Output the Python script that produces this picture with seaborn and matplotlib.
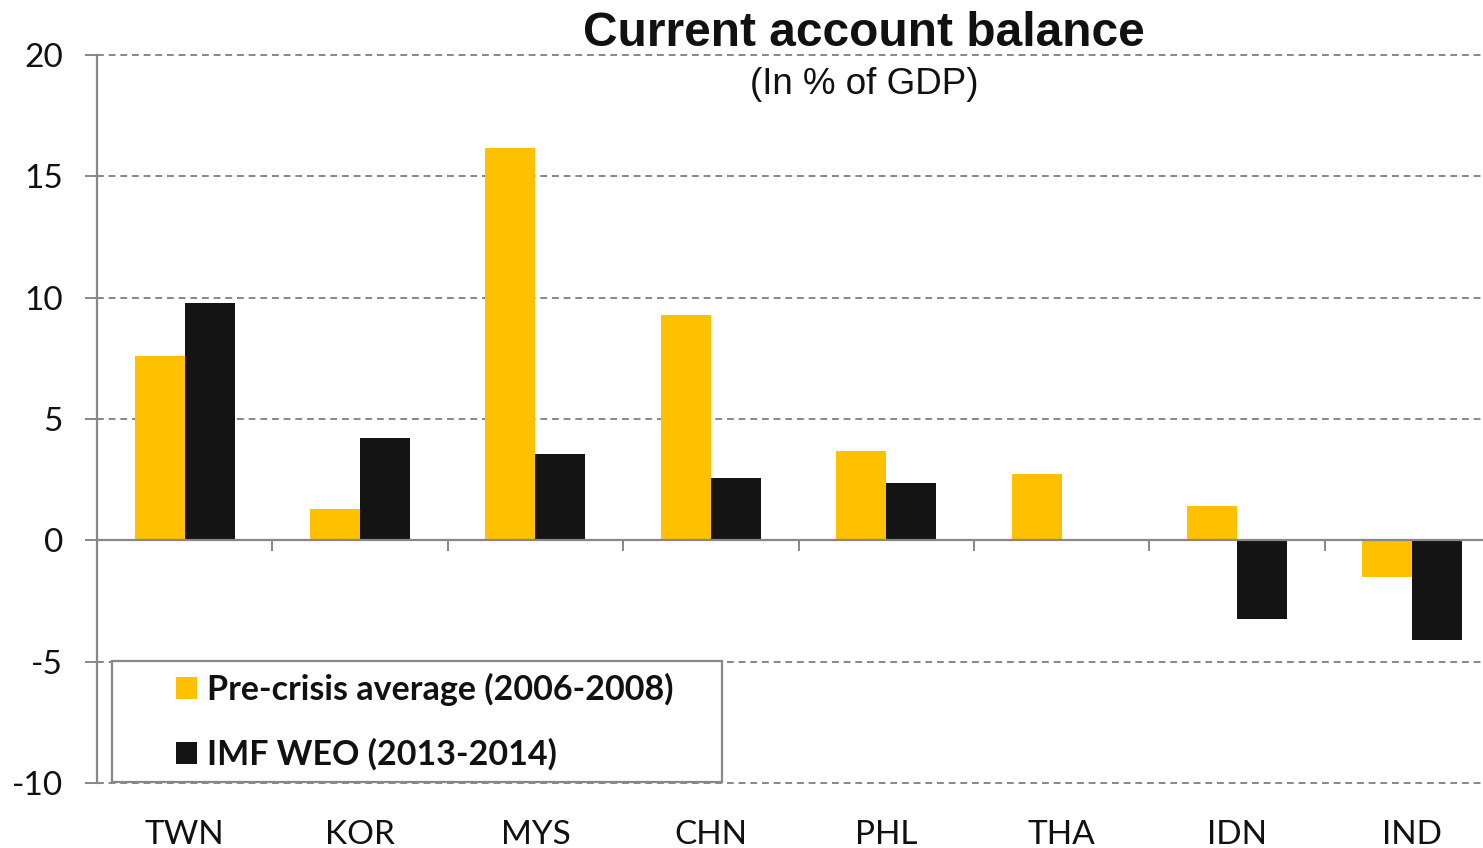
import numpy as np
import pandas as pd
import matplotlib
matplotlib.use("Agg")
import matplotlib.pyplot as plt
from matplotlib.patches import Rectangle
from matplotlib.ticker import FuncFormatter
import seaborn as sns

# Data: current account balance, % of GDP
countries = ["TWN", "KOR", "MYS", "CHN", "PHL", "THA", "IDN", "IND"]
pre_crisis = [7.6, 1.3, 16.15, 9.3, 3.7, 2.75, 1.4, -1.5]
imf_weo = [9.8, 4.2, 3.55, 2.55, 2.35, np.nan, -3.25, -4.1]
series_names = ["Pre-crisis average (2006-2008)", "IMF WEO (2013-2014)"]
y_ticks = [-10, -5, 0, 5, 10, 15, 20]

df = pd.DataFrame({
    "country": countries * 2,
    "series": [series_names[0]] * len(countries) + [series_names[1]] * len(countries),
    "value": pre_crisis + imf_weo,
})

sns.set_style("white")
plt.rcParams["font.family"] = ["Lato", "DejaVu Sans"]
plt.rcParams["axes.unicode_minus"] = False

W, H = 1483, 848
fig = plt.figure(figsize=(W / 100, H / 100), dpi=100)
fig.patch.set_facecolor("white")

# axes spans past the right edge so the last category is clipped
ax_left, ax_right, ax_top, ax_bottom = 97, 1500, 55, 783
ax = fig.add_axes([ax_left / W, 1 - ax_bottom / H, (ax_right - ax_left) / W, (ax_bottom - ax_top) / H])

palette = {series_names[0]: "#FFC000", series_names[1]: "#141414"}
sns.barplot(data=df, x="country", y="value", hue="series", order=countries,
            hue_order=series_names, palette=palette, width=0.57, ax=ax,
            saturation=1, edgecolor="none", linewidth=0)

grey = "#878787"
ax.set_xlim(-0.5, len(countries) - 0.5)
ax.set_ylim(-10, 20)
ax.set_yticks(y_ticks)
ax.yaxis.set_major_formatter(FuncFormatter(lambda v, p: f"{int(v)}"))
ax.set_xlabel("")
ax.set_ylabel("")

# dashed horizontal gridlines (zero line drawn by the bottom spine)
for v in y_ticks:
    if v != 0:
        ax.axhline(v, color=grey, lw=1.4, ls=(0, (3.5, 2.5)), zorder=0, clip_on=False)
ax.grid(False)

for s in ["top", "right"]:
    ax.spines[s].set_visible(False)
ax.spines["left"].set_color(grey)
ax.spines["left"].set_linewidth(1.6)
ax.spines["bottom"].set_position(("data", 0))
ax.spines["bottom"].set_color(grey)
ax.spines["bottom"].set_linewidth(1.6)
ax.spines["bottom"].set_zorder(3)

ax.tick_params(axis="y", left=True, direction="out", length=8.6, width=1.4, color=grey,
               pad=16, labelsize=24, labelcolor="#111111")
ax.set_xticks(np.arange(len(countries)) + 0.5)
ax.set_xticklabels([])
ax.tick_params(axis="x", bottom=True, direction="out", length=8, width=1.4, color=grey)

# category labels along the bottom of the plot area
sec = ax.secondary_xaxis("bottom")
sec.set_xticks(np.arange(len(countries)))
sec.set_xticklabels(countries)
sec.tick_params(axis="x", bottom=True, length=0, pad=27, labelsize=24, labelcolor="#111111")
sec.spines["bottom"].set_visible(False)

# legend inside a framed box
ax.get_legend().remove()
handles = [Rectangle((0, 0), 1, 1, facecolor=palette[n], edgecolor="none") for n in series_names]
box = Rectangle((112 / W, 1 - 782 / H), 610 / W, 121 / H, transform=fig.transFigure,
                facecolor="white", edgecolor=grey, linewidth=1.6, zorder=5)
fig.patches.append(box)
leg = fig.legend(handles, series_names, loc="upper left",
                 bbox_to_anchor=(176 / W, 1 - 673 / H), bbox_transform=fig.transFigure,
                 frameon=False, borderpad=0, borderaxespad=0,
                 handlelength=0.62, handleheight=0.62, handletextpad=0.3,
                 labelspacing=0.95,
                 prop={"family": ["Lato", "DejaVu Sans"], "weight": "bold", "size": 24.5})
leg.set_zorder(6)
for t in leg.get_texts():
    t.set_color("#111111")

fig.text(864 / W, 1 - 33 / H, "Current account balance", ha="center", va="center",
         fontsize=34.5, fontweight="bold", color="#111111",
         family=["Liberation Sans", "DejaVu Sans"])
fig.text(864 / W, 1 - 84 / H, "(In % of GDP)", ha="center", va="center",
         fontsize=26.5, color="#111111",
         family=["Liberation Sans", "DejaVu Sans"])

fig.savefig("out.png", dpi=100, facecolor="white")
